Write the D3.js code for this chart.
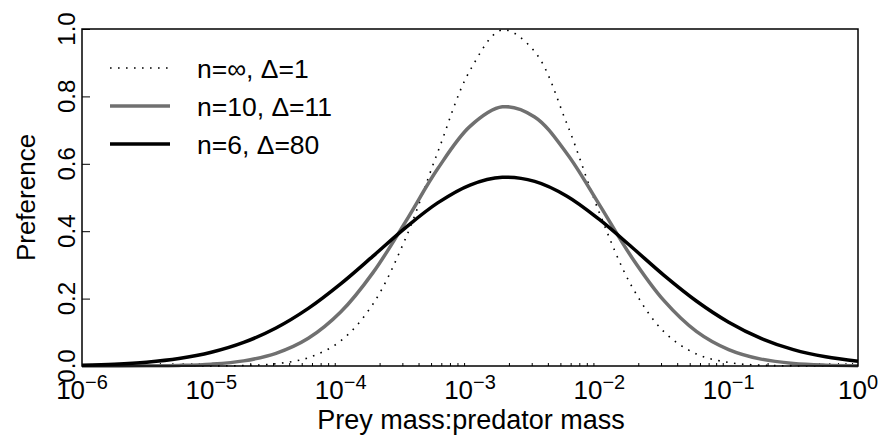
<!DOCTYPE html>
<html>
<head>
<meta charset="utf-8">
<script src="https://cdn.jsdelivr.net/npm/d3@7"></script>
<style>
  body { margin: 0; background: #fff; }
  text { font-family: "Liberation Sans", Arial, sans-serif; fill: #000; }
</style>
</head>
<body>
<div id="chart"></div>
<script>
// log10(prey mass : predator mass), sampled every quarter decade
const logMass = [-6, -5.75, -5.5, -5.25, -5, -4.75, -4.5, -4.25, -4, -3.75, -3.5, -3.25, -3,
  -2.75, -2.5, -2.25, -2, -1.75, -1.5, -1.25, -1, -0.75, -0.5, -0.25, 0];

// preference
const prefInf = [0, 0, 0, 0, 0.0003, 0.0015, 0.0067, 0.0246, 0.0743, 0.184, 0.377, 0.634, 0.877,
  0.997, 0.933, 0.718, 0.455, 0.237, 0.1015, 0.0358, 0.0104, 0.0025, 0.0005, 0.0001, 0];
const pref10 = [0, 0.0001, 0.0005, 0.0017, 0.0055, 0.0152, 0.0375, 0.0821, 0.160, 0.277, 0.427, 0.585, 0.711,
  0.769, 0.739, 0.630, 0.479, 0.323, 0.194, 0.103, 0.0489, 0.0205, 0.0077, 0.0026, 0.0008];
const pref6 = [0.0025, 0.0055, 0.0114, 0.0222, 0.0407, 0.0699, 0.1128, 0.171, 0.2437, 0.326, 0.410, 0.484, 0.537,
  0.560, 0.548, 0.504, 0.435, 0.353, 0.269, 0.193, 0.130, 0.082, 0.0487, 0.0272, 0.0142];

const legendLabels = ["n=\u221E, \u0394=1", "n=10, \u0394=11", "n=6, \u0394=80"];
const yTicks = [0, 0.2, 0.4, 0.6, 0.8, 1.0];
const xDecades = [-6, -5, -4, -3, -2, -1, 0];

const width = 883, height = 439;
const margins = { t: 29, r: 25, b: 73, l: 82 };
const chartdims = { width: width - margins.l - margins.r, height: height - margins.t - margins.b };

const svg = d3.select("#chart").append("svg")
  .attr("width", width)
  .attr("height", height);

const xScale = d3.scaleLog().domain([1e-6, 1]).range([0, chartdims.width]);
const yScale = d3.scaleLinear().domain([0, 1]).range([chartdims.height, 0]);

const plotg = svg.append("g").attr("transform", `translate(${margins.l},${margins.t})`);

// minor ticks along the bottom (inside), no ticks on the decades
const minorTicks = xScale.ticks().filter(d => {
  const l = Math.log10(d);
  return Math.abs(l - Math.round(l)) > 1e-6;
});
const xAxis = d3.axisBottom(xScale).tickValues(minorTicks).tickSize(-3).tickFormat("");
const xaxisg = plotg.append("g").attr("transform", `translate(0,${chartdims.height})`).call(xAxis);
xaxisg.select(".domain").remove();
xaxisg.selectAll("line").attr("stroke", "#000").attr("stroke-width", 1);

const yAxis = d3.axisLeft(yScale).tickValues(yTicks).tickSize(-8).tickFormat("");
const yaxisg = plotg.append("g").call(yAxis);
yaxisg.select(".domain").remove();
yaxisg.selectAll("line").attr("stroke", "#000").attr("stroke-width", 1);

// decade labels 10^k
const xlab = plotg.append("g").selectAll("text").data(xDecades).join("text")
  .attr("x", d => xScale(Math.pow(10, d)))
  .attr("y", chartdims.height + 33)
  .attr("text-anchor", "middle")
  .attr("font-size", 26);
xlab.append("tspan").text("10");
xlab.append("tspan").attr("dy", -10).attr("font-size", 20)
  .text(d => (d < 0 ? "\u2212" + Math.abs(d) : String(d)));

// y labels rotated
plotg.append("g").selectAll("text").data(yTicks).join("text")
  .attr("transform", d => `translate(-7,${yScale(d)}) rotate(-90)`)
  .attr("text-anchor", "middle")
  .attr("font-size", 24)
  .text(d3.format(".1f"));

// axis titles
svg.append("text")
  .attr("transform", `translate(35,${margins.t + chartdims.height / 2}) rotate(-90)`)
  .attr("text-anchor", "middle")
  .attr("font-size", 26)
  .text("Preference");

svg.append("text")
  .attr("x", margins.l + chartdims.width / 2 + 1)
  .attr("y", 429)
  .attr("text-anchor", "middle")
  .attr("font-size", 27)
  .text("Prey mass:predator mass");

// curves
const series = [
  { vals: prefInf, stroke: "#000", sw: 1.6, dash: "1.6,6.4" },
  { vals: pref10, stroke: "#707070", sw: 3.5, dash: null },
  { vals: pref6, stroke: "#000", sw: 3.5, dash: null }
];

const lineGen = d3.line()
  .x(d => xScale(Math.pow(10, d[0])))
  .y(d => yScale(Math.max(0, d[1])))
  .curve(d3.curveCatmullRom.alpha(0.5));

plotg.selectAll(".data-line").data(series).join("path")
  .attr("class", "data-line")
  .attr("d", s => lineGen(logMass.map((u, i) => [u, s.vals[i]])))
  .attr("fill", "none")
  .attr("stroke", s => s.stroke)
  .attr("stroke-width", s => s.sw)
  .attr("stroke-dasharray", s => s.dash);

// frame
plotg.append("rect")
  .attr("width", chartdims.width)
  .attr("height", chartdims.height)
  .attr("fill", "none")
  .attr("stroke", "#000")
  .attr("stroke-width", 1.5);

// legend
const legendY = [68, 106, 144];
const legendg = svg.append("g");
legendg.selectAll("line").data(series).join("line")
  .attr("x1", 110).attr("x2", 170)
  .attr("y1", (d, i) => legendY[i]).attr("y2", (d, i) => legendY[i])
  .attr("stroke", s => s.stroke)
  .attr("stroke-width", s => s.sw)
  .attr("stroke-dasharray", s => s.dash);
legendg.selectAll("text").data(legendLabels).join("text")
  .attr("x", 197)
  .attr("y", (d, i) => legendY[i])
  .attr("dy", "0.36em")
  .attr("font-size", 26.5)
  .text(d => d);
</script>
</body>
</html>
